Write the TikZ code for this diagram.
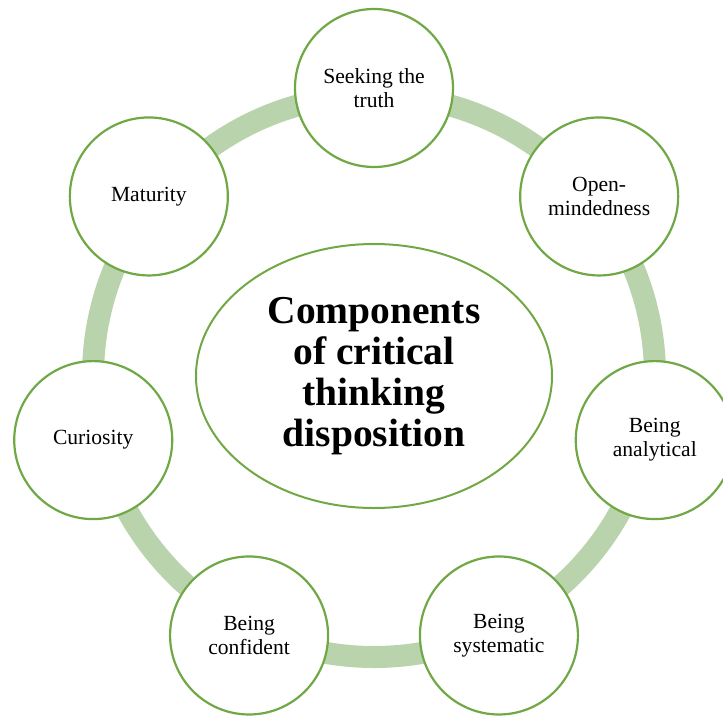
\documentclass[tikz,border=0pt]{standalone}
\usepackage{fontspec}
\setmainfont{Liberation Serif}
\usepackage{tikz}
\usetikzlibrary{shapes.geometric,calc}

\definecolor{ringgreen}{RGB}{185,212,172}
\definecolor{edgegreen}{RGB}{112,168,70}

\begin{document}
\begin{tikzpicture}[x=1pt,y=1pt,line join=round,
    part/.style={circle,draw=edgegreen,line width=2.2pt,fill=white,minimum size=158pt,inner sep=0pt,align=center,font=\fontsize{21.6}{24}\selectfont},
    core/.style={ellipse,draw=edgegreen,line width=2pt,fill=white,minimum width=356pt,minimum height=264pt,inner sep=0pt,align=center,font=\fontsize{39.5}{41}\selectfont\bfseries}]
    \useasboundingbox (0,0) rectangle (723,-718);
    \coordinate (ctr) at (374,-376);

    % ring behind the parts
    \draw[ringgreen,line width=22pt] (ctr) circle (281);

    \node[core] (topic) at (ctr) {Components\\of critical\\thinking\\disposition};

    \node[part] (truth)     at ($(ctr)+(90:288)$)      {Seeking the\\truth};
    \node[part] (openmind)  at ($(ctr)+(38.57:288)$)   {Open-\\mindedness};
    \node[part] (analytic)  at ($(ctr)+(-12.86:288)$)  {Being\\analytical};
    \node[part] (system)    at ($(ctr)+(-64.29:288)$)  {Being\\systematic};
    \node[part] (confident) at ($(ctr)+(-115.71:288)$) {Being\\confident};
    \node[part] (curious)   at ($(ctr)+(192.86:288)$)  {Curiosity};
    \node[part] (mature)    at ($(ctr)+(141.43:288)$)  {Maturity};
\end{tikzpicture}
\end{document}
